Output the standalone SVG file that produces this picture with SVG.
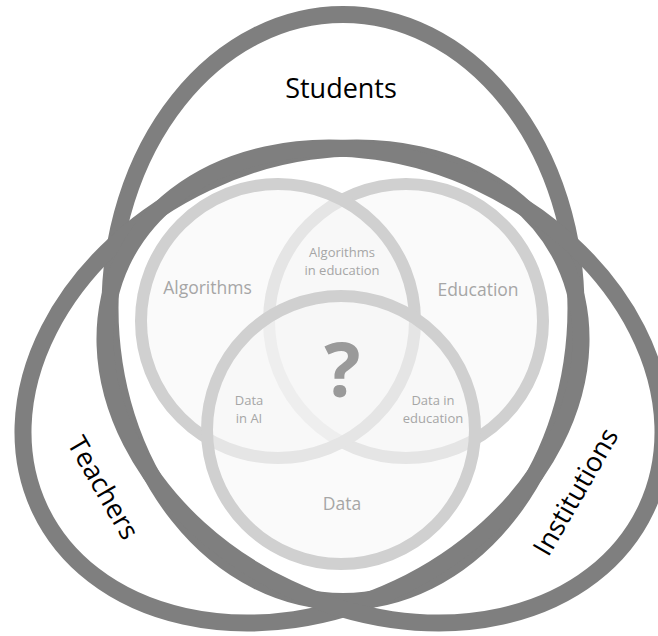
<svg xmlns="http://www.w3.org/2000/svg" width="658" height="636" viewBox="0 0 658 636">
  <style>
    .big { fill: none; stroke: #7f7f7f; stroke-width: 17; }
    .circ { fill: #f6f6f6; fill-opacity: 0.55; stroke: #d0d0d0; stroke-width: 12; }
    .lbl { font-family: "Open Sans", "Liberation Sans", sans-serif; fill: #000000; font-size: 27px; text-anchor: middle; }
    .in { font-family: "Open Sans", "Liberation Sans", sans-serif; fill: #a6a6a6; text-anchor: middle; }
    .lg { font-size: 17.5px; }
    .sm { font-size: 13px; }
  </style>
  <rect width="658" height="636" fill="#ffffff"/>
  <g id="students">
    <ellipse class="big" cx="343" cy="308" rx="233" ry="293.5"/>
    <text class="lbl" x="341" y="98">Students</text>
  </g>
  <g id="teachers">
    <ellipse class="big" cx="302" cy="385.5" rx="289.8" ry="224.2" transform="rotate(-25.25 302 385.5)"/>
    <text class="lbl" transform="translate(103 488) rotate(60)" y="9">Teachers</text>
  </g>
  <g id="institutions">
    <ellipse class="big" cx="384" cy="385.5" rx="289.8" ry="224.2" transform="rotate(25.25 384 385.5)"/>
    <text class="lbl" transform="translate(576 492) rotate(-60)" y="9">Institutions</text>
  </g>
  <g id="education">
    <circle class="circ" cx="406" cy="321" r="137"/>
  </g>
  <g id="algorithms">
    <circle class="circ" cx="278" cy="321" r="137"/>
  </g>
  <g id="data">
    <circle class="circ" cx="341" cy="430" r="134"/>
  </g>
  <g id="labels">
    <text class="in lg" x="207.5" y="294">Algorithms</text>
    <text class="in lg" x="478" y="296">Education</text>
    <text class="in lg" x="342" y="510">Data</text>
    <text class="in sm" x="342" y="257">Algorithms</text>
    <text class="in sm" x="342" y="275">in education</text>
    <text class="in sm" x="249" y="405">Data</text>
    <text class="in sm" x="249" y="423">in AI</text>
    <text class="in sm" x="433" y="405">Data in</text>
    <text class="in sm" x="433" y="423">education</text>
    <text x="342.5" y="397" font-family="Open Sans, Liberation Sans, sans-serif" font-weight="bold" font-size="76" fill="#9a9a9a" text-anchor="middle">?</text>
  </g>
</svg>
